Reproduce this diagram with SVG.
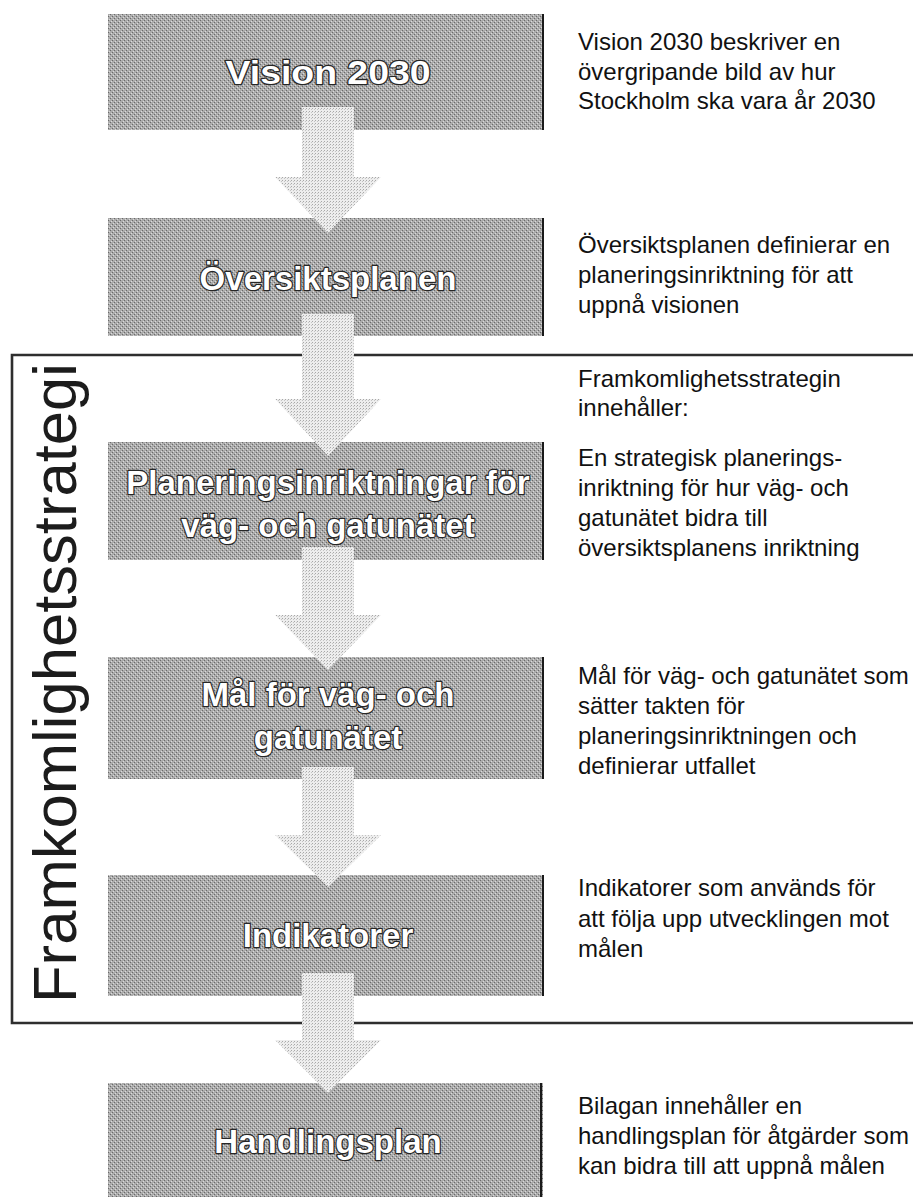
<svg xmlns="http://www.w3.org/2000/svg" width="913" height="1197" viewBox="0 0 913 1197">
<style>
.box{fill:url(#dither);}
.edge{stroke:#1a1a1a;stroke-width:2;}
.lbl{font-family:"Liberation Sans",Arial,sans-serif;font-weight:bold;font-size:33px;fill:#ffffff;stroke:#262626;stroke-width:2.4;paint-order:stroke fill;text-anchor:middle;stroke-linejoin:round;}
.desc{font-family:"Liberation Sans",Arial,sans-serif;font-size:24px;fill:#111111;}
.arrow{fill:url(#stip);}
.frame{fill:none;stroke:#2e2e2e;stroke-width:2.6;}
.vert{font-family:"Liberation Sans",Arial,sans-serif;font-size:62px;fill:#1c1c1c;}
</style>
<defs>
<pattern id="dither" width="4" height="4" patternUnits="userSpaceOnUse">
<rect width="4" height="4" fill="#ababab"/>
<rect x="0" y="0" width="1" height="1" fill="#6a6a6a"/>
<rect x="2" y="2" width="1" height="1" fill="#6a6a6a"/>
<rect x="1" y="3" width="1" height="1" fill="#dadada"/>
<rect x="3" y="1" width="1" height="1" fill="#dadada"/>
</pattern>
<pattern id="stip" width="3" height="3" patternUnits="userSpaceOnUse">
<rect width="3" height="3" fill="#ededed"/>
<rect x="0" y="0" width="1" height="1" fill="#a8a8a8"/>
<rect x="2" y="1" width="1" height="1" fill="#c4c4c4"/>
</pattern>
</defs>
<rect width="913" height="1197" fill="#ffffff"/>

<g id="frame">
<path class="frame" d="M913,355 H12 V1023 H913"/>
<text class="vert" transform="translate(76,1003) rotate(-90)" textLength="640" lengthAdjust="spacingAndGlyphs">Framkomlighetsstrategi</text>
</g>

<g id="node-vision">
<rect class="box" x="108" y="14" width="435" height="116"/>
<line class="edge" x1="543" y1="14" x2="543" y2="130"/>
<text class="lbl" x="328" y="84" textLength="205" lengthAdjust="spacingAndGlyphs">Vision 2030</text>
</g>
<g id="node-oversikt">
<rect class="box" x="108" y="218" width="435" height="118"/>
<line class="edge" x1="543" y1="218" x2="543" y2="336"/>
<text class="lbl" x="328" y="290">Översiktsplanen</text>
</g>
<g id="node-planering">
<rect class="box" x="108" y="442" width="435" height="118"/>
<line class="edge" x1="543" y1="442" x2="543" y2="560"/>
<text class="lbl" x="328" y="494">Planeringsinriktningar för</text>
<text class="lbl" x="328" y="537">väg- och gatunätet</text>
</g>
<g id="node-mal">
<rect class="box" x="108" y="657" width="435" height="122"/>
<line class="edge" x1="543" y1="657" x2="543" y2="779"/>
<text class="lbl" x="328" y="706">Mål för väg- och</text>
<text class="lbl" x="328" y="749">gatunätet</text>
</g>
<g id="node-indikatorer">
<rect class="box" x="108" y="875" width="435" height="121"/>
<line class="edge" x1="543" y1="875" x2="543" y2="996"/>
<text class="lbl" x="328" y="947">Indikatorer</text>
</g>
<g id="node-handlingsplan">
<rect class="box" x="108" y="1083" width="435" height="114"/>
<line class="edge" x1="541" y1="1083" x2="541" y2="1197"/>
<text class="lbl" x="328" y="1153">Handlingsplan</text>
</g>

<g id="connectors">
<polygon class="arrow" points="302,107 354,107 354,177 381,177 328,233 275,177 302,177"/>
<polygon class="arrow" points="302,314 354,314 354,399 381,399 328,456 275,399 302,399"/>
<polygon class="arrow" points="302,547 354,547 354,615 381,615 328,670 275,615 302,615"/>
<polygon class="arrow" points="302,767 354,767 354,835 381,835 328,887 275,835 302,835"/>
<polygon class="arrow" points="302,973 354,973 354,1040 381,1040 328,1093 275,1040 302,1040"/>
</g>

<g id="descriptions">
<text class="desc" x="578" y="50">Vision 2030 beskriver en</text>
<text class="desc" x="578" y="80">övergripande bild av hur</text>
<text class="desc" x="578" y="109">Stockholm ska vara år 2030</text>
<text class="desc" x="578" y="253">Översiktsplanen definierar en</text>
<text class="desc" x="578" y="283">planeringsinriktning för att</text>
<text class="desc" x="578" y="313">uppnå visionen</text>
<text class="desc" x="578" y="387">Framkomlighetsstrategin</text>
<text class="desc" x="578" y="416">innehåller:</text>
<text class="desc" x="578" y="466">En strategisk planerings-</text>
<text class="desc" x="578" y="496">inriktning för hur väg- och</text>
<text class="desc" x="578" y="526">gatunätet bidra till</text>
<text class="desc" x="578" y="556">översiktsplanens inriktning</text>
<text class="desc" x="578" y="684">Mål för väg- och gatunätet som</text>
<text class="desc" x="578" y="714">sätter takten för</text>
<text class="desc" x="578" y="744">planeringsinriktningen och</text>
<text class="desc" x="578" y="774">definierar utfallet</text>
<text class="desc" x="578" y="896">Indikatorer som används för</text>
<text class="desc" x="578" y="927">att följa upp utvecklingen mot</text>
<text class="desc" x="578" y="957">målen</text>
<text class="desc" x="578" y="1114">Bilagan innehåller en</text>
<text class="desc" x="578" y="1144">handlingsplan för åtgärder som</text>
<text class="desc" x="578" y="1174">kan bidra till att uppnå målen</text>
</g>
</svg>
